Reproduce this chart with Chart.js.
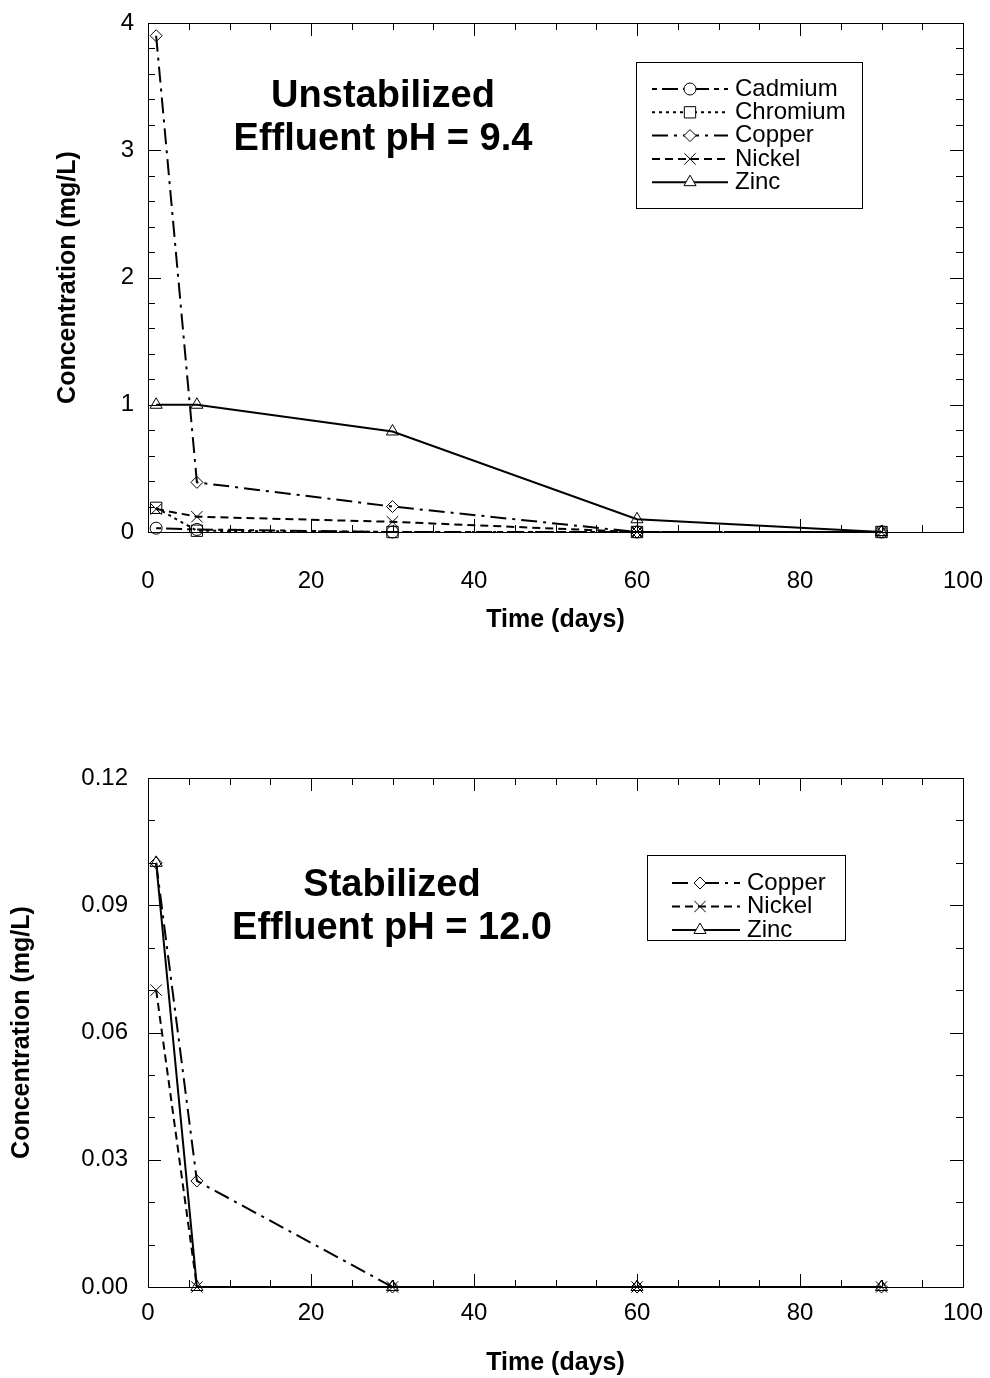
<!DOCTYPE html>
<html>
<head>
<title>Leachate metals</title>
<script src="https://cdn.jsdelivr.net/npm/chart.js@4.4.1/dist/chart.umd.min.js"></script>
<style>
  body { margin: 0; background: #fff; }
  canvas { display: block; }
</style>
</head>
<body>
<canvas id="unstab" width="990" height="690"></canvas>
<canvas id="stab" width="990" height="688"></canvas>
<script>
// sampling days
var days = [1, 6, 30, 60, 90];

// unstabilized effluent, mg/L
var cadmiumU  = [0.03, 0.02, 0, 0, 0];
var chromiumU = [0.19, 0.01, 0, 0, 0];
var copperU   = [3.9, 0.39, 0.2, 0, 0];
var nickelU   = [0.18, 0.12, 0.08, 0, 0];
var zincU     = [1.0, 1.0, 0.79, 0.1, 0];

// stabilized effluent, mg/L
var copperS = [0.1, 0.025, 0, 0, 0];
var nickelS = [0.07, 0, 0, 0, 0];
var zincS   = [0.1, 0, 0, 0, 0];

var xTicks  = [0, 20, 40, 60, 80, 100];
var yTicksU = [0, 1, 2, 3, 4];
var yTicksS = [0, 0.03, 0.06, 0.09, 0.12];

Chart.defaults.font.family = '"Liberation Sans", Arial, sans-serif';
Chart.defaults.color = '#000';

function pts(vals) {
  return days.map(function (d, i) { return { x: d, y: vals[i] }; });
}

function series(label, vals, dash, style, r, order) {
  return {
    label: label,
    data: pts(vals),
    order: order,
    borderColor: '#000',
    borderWidth: 2,
    borderDash: dash,
    pointStyle: style,
    pointRadius: r,
    pointBackgroundColor: 'rgba(0,0,0,0)',
    pointBorderColor: '#000',
    pointBorderWidth: 1,
    fill: false,
    tension: 0,
    clip: false
  };
}

// box frame with inward tick marks on all four sides
var frameTicks = {
  id: 'frameTicks',
  beforeDatasetsDraw: function (chart, args, o) {
    var ctx = chart.ctx, a = chart.chartArea;
    var x = chart.scales.x, y = chart.scales.y;
    ctx.save();
    ctx.strokeStyle = '#000';
    ctx.lineWidth = 1;
    ctx.strokeRect(Math.round(a.left) + .5, Math.round(a.top) + .5,
      Math.round(a.right - a.left), Math.round(a.bottom - a.top));
    ctx.beginPath();
    var n = Math.round((x.max - x.min) / o.xMinor);
    for (var i = 0; i <= n; i++) {
      var v = x.min + i * o.xMinor;
      var px = Math.round(x.getPixelForValue(v)) + .5;
      var len = (Math.abs(v / o.xMajor - Math.round(v / o.xMajor)) < 1e-6) ? 13 : 7;
      ctx.moveTo(px, a.bottom); ctx.lineTo(px, a.bottom - len);
      ctx.moveTo(px, a.top); ctx.lineTo(px, a.top + len);
    }
    n = Math.round((y.max - y.min) / o.yMinor);
    for (i = 0; i <= n; i++) {
      v = y.min + i * o.yMinor;
      var py = Math.round(y.getPixelForValue(v)) + .5;
      len = (Math.abs(v / o.yMajor - Math.round(v / o.yMajor)) < 1e-6) ? 13 : 7;
      ctx.moveTo(a.left, py); ctx.lineTo(a.left + len, py);
      ctx.moveTo(a.right, py); ctx.lineTo(a.right - len, py);
    }
    ctx.stroke();
    ctx.restore();
  }
};

// legend box: line sample with marker in the middle, then the name
var boxLegend = {
  id: 'boxLegend',
  afterDraw: function (chart, args, o) {
    var ctx = chart.ctx;
    ctx.save();
    ctx.strokeStyle = '#000';
    ctx.lineWidth = 1;
    ctx.strokeRect(o.x + .5, o.y + .5, o.w, o.h);
    ctx.font = o.font;
    ctx.textBaseline = 'middle';
    chart.data.datasets.forEach(function (ds, i) {
      var yy = o.y + o.first + i * o.gap;
      ctx.beginPath();
      ctx.setLineDash(ds.borderDash || []);
      ctx.lineWidth = ds.borderWidth;
      ctx.moveTo(o.x + o.l0, yy);
      ctx.lineTo(o.x + o.l1, yy);
      ctx.stroke();
      ctx.setLineDash([]);
      // white behind the marker so the sample line does not run through it
      ctx.fillStyle = '#fff';
      ctx.lineWidth = 1;
      Chart.helpers.drawPoint(ctx, {
        pointStyle: ds.pointStyle, radius: ds.pointRadius, rotation: 0, borderWidth: 1
      }, o.x + o.mk, yy);
      ctx.fillStyle = '#000';
      ctx.fillText(ds.label, o.x + o.tx, yy);
    });
    ctx.restore();
  }
};

// two-line heading inside the plot
var plotHeading = {
  id: 'plotHeading',
  afterDraw: function (chart, args, o) {
    var ctx = chart.ctx;
    ctx.save();
    ctx.font = o.font;
    ctx.fillStyle = '#000';
    ctx.textAlign = 'center';
    ctx.textBaseline = 'middle';
    o.lines.forEach(function (t, i) { ctx.fillText(t, o.x, o.y + i * o.gap); });
    ctx.restore();
  }
};

function makeChart(id, sets, yTicks, yMax, fmt, dims) {
  return new Chart(document.getElementById(id), {
    type: 'line',
    data: { datasets: sets },
    options: {
      responsive: false,
      animation: false,
      devicePixelRatio: 1,
      layout: { padding: { top: dims.top, right: 27, left: 0, bottom: 0 } },
      scales: {
        x: {
          type: 'linear', min: 0, max: 100,
          afterBuildTicks: function (s) { s.ticks = xTicks.map(function (v) { return { value: v }; }); },
          afterFit: function (s) { s.height = dims.xh; s.paddingLeft = 0; s.paddingRight = 0; },
          ticks: { font: { size: 24 }, padding: dims.xpad, maxRotation: 0 },
          grid: { display: false, drawTicks: false },
          border: { display: false },
          title: { display: true, text: 'Time (days)', font: { size: 25, weight: 'bold' },
                   padding: { top: 0, bottom: dims.xtitle } }
        },
        y: {
          type: 'linear', min: 0, max: yMax,
          afterBuildTicks: function (s) { s.ticks = yTicks.map(function (v) { return { value: v }; }); },
          afterFit: function (s) { s.width = 148; s.paddingTop = 0; s.paddingBottom = 0; },
          ticks: { font: { size: 24 }, padding: dims.ypad, callback: fmt },
          grid: { display: false, drawTicks: false },
          border: { display: false },
          title: { display: true, text: 'Concentration (mg/L)', font: { size: 25, weight: 'bold' },
                   padding: { top: dims.ytitle, bottom: 0 } }
        }
      },
      plugins: {
        legend: { display: false },
        tooltip: { enabled: false },
        frameTicks: dims.ticks,
        boxLegend: dims.legend,
        plotHeading: dims.heading
      }
    },
    plugins: [frameTicks, boxLegend, plotHeading]
  });
}

makeChart('unstab', [
  series('Cadmium', cadmiumU, [5, 5, 16, 5], 'circle', 6, 5),
  series('Chromium', chromiumU, [3, 4], 'rect', 8, 4),
  series('Copper', copperU, [16, 6, 3, 6], 'rectRot', 6, 3),
  series('Nickel', nickelU, [8, 5], 'crossRot', 8, 2),
  series('Zinc', zincU, [], 'triangle', 7, 1)
], yTicksU, 4, function (v) { return v.toFixed(0); }, {
  top: 23, xh: 158, xpad: 35, xtitle: 55, ypad: 14, ytitle: 53,
  ticks: { xMinor: 5, xMajor: 20, yMinor: 0.2, yMajor: 1 },
  legend: { x: 636, y: 62, w: 226, h: 146, first: 27, gap: 23.3, l0: 16, l1: 92, mk: 54, tx: 99,
            font: '24px "Liberation Sans", Arial, sans-serif' },
  heading: { lines: ['Unstabilized', 'Effluent pH = 9.4'], x: 383, y: 97, gap: 43,
             font: 'bold 38px "Liberation Sans", Arial, sans-serif' }
});

makeChart('stab', [
  series('Copper', copperS, [16, 6, 3, 6], 'rectRot', 6, 3),
  series('Nickel', nickelS, [8, 5], 'crossRot', 8, 2),
  series('Zinc', zincS, [], 'triangle', 7, 1)
], yTicksS, 0.12, function (v) { return v.toFixed(2); }, {
  top: 88, xh: 91, xpad: 12, xtitle: 0, ypad: 20, ytitle: 7,
  ticks: { xMinor: 5, xMajor: 20, yMinor: 0.01, yMajor: 0.03 },
  legend: { x: 647, y: 165, w: 198, h: 85, first: 28, gap: 23.5, l0: 25, l1: 93, mk: 53, tx: 100,
            font: '24px "Liberation Sans", Arial, sans-serif' },
  heading: { lines: ['Stabilized', 'Effluent pH = 12.0'], x: 392, y: 196, gap: 43,
             font: 'bold 38px "Liberation Sans", Arial, sans-serif' }
});
</script>
</body>
</html>
